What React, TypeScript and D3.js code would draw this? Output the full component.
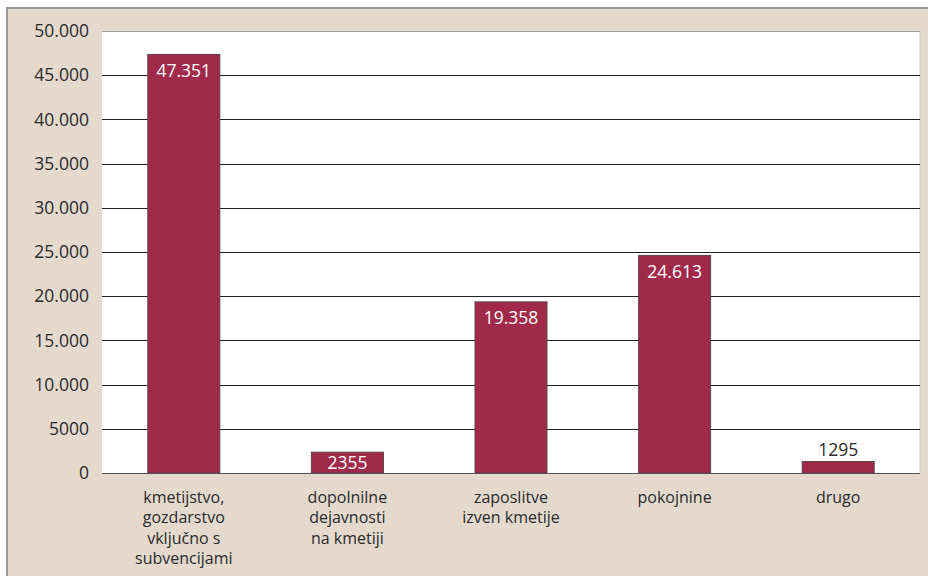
import React from "react";
import * as d3 from "d3";

const categories: string[][] = [
  ["kmetijstvo,", "gozdarstvo", "vključno s", "subvencijami"],
  ["dopolnilne", "dejavnosti", "na kmetiji"],
  ["zaposlitve", "izven kmetije"],
  ["pokojnine"],
  ["drugo"],
];
const values: number[] = [47351, 2355, 19358, 24613, 1295];
const yTicks: number[] = [0, 5000, 10000, 15000, 20000, 25000, 30000, 35000, 40000, 45000, 50000];

const W = 928;
const H = 576;
const plot = { left: 102, right: 920, top: 31, bottom: 473 };
const font = "'Open Sans', 'Noto Sans', sans-serif";

const fmt = (v: number) => {
  if (v < 10000) return String(v);
  return d3.format(",")(v).replace(/,/g, ".");
};

export default function App() {
  const x = d3
    .scaleBand<number>()
    .domain(values.map((_, i) => i))
    .range([plot.left, plot.right])
    .paddingInner(0.56)
    .paddingOuter(0.28);
  const y = d3.scaleLinear().domain([0, 50000]).range([plot.bottom, plot.top]);

  return (
    <svg
      width={W}
      height={H}
      style={{ position: "absolute", left: 0, top: 0, background: "#fff" }}
    >
      <rect x={7} y={8} width={W - 6} height={H} fill="#e5d9ce" stroke="#9a9a9a" strokeWidth={2} />
      <rect x={plot.left} y={plot.top} width={plot.right - plot.left} height={plot.bottom - plot.top} fill="#fff" />
      <line x1={plot.right} x2={plot.right} y1={plot.top} y2={plot.bottom} stroke="#c8c8c8" strokeWidth={1} />
      {yTicks.map((t) => (
        <g key={t}>
          <line
            x1={plot.left}
            x2={plot.right}
            y1={Math.round(y(t)) + 0.5}
            y2={Math.round(y(t)) + 0.5}
            stroke={t === 50000 ? "#a0a0a0" : t === 0 ? "#555" : "#222"}
            strokeWidth={1}
          />
          <text
            x={89}
            y={y(t)}
            dy="0.35em"
            textAnchor="end"
            fontFamily={font}
            fontSize={17.5}
            fill="#2a2a2a"
          >
            {fmt(t)}
          </text>
        </g>
      ))}
      {values.map((v, i) => {
        const bx = x(i)!;
        const bw = x.bandwidth();
        const by = y(v);
        const bh = y(0) - by;
        const inside = bh >= 18;
        return (
          <g key={i}>
            <rect x={bx} y={by} width={bw} height={bh} fill="#a12a4b" stroke="#5a4048" strokeWidth={1} />
            <text
              x={bx + bw / 2}
              y={inside ? by + Math.min(16, bh / 2) : by - 12}
              dy="0.35em"
              textAnchor="middle"
              fontFamily={font}
              fontSize={17.5}
              fill={inside ? "#fff" : "#2a2a2a"}
            >
              {fmt(v)}
            </text>
            <text
              x={bx + bw / 2}
              y={497}
              textAnchor="middle"
              fontFamily={font}
              fontSize={16}
              fill="#2a2a2a"
            >
              {categories[i].map((line, j) => (
                <tspan key={j} x={bx + bw / 2} dy={j === 0 ? "0.35em" : 20.5}>
                  {line}
                </tspan>
              ))}
            </text>
          </g>
        );
      })}
    </svg>
  );
}
